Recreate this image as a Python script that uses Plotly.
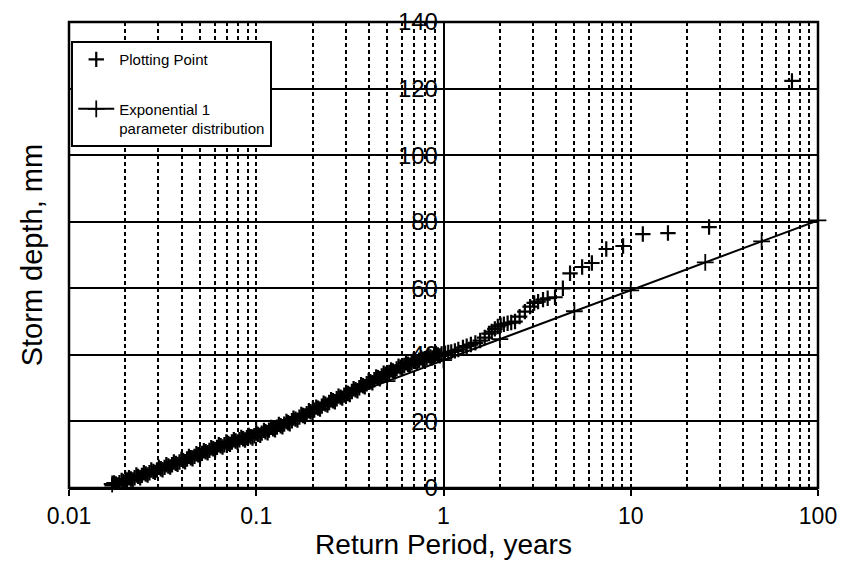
import plotly.graph_objects as go

# Plotting points (return period in years, storm depth in mm)
point_T = [
    0.0170, 0.0178, 0.0186, 0.0195, 0.0204, 0.0214, 0.0224, 0.0234, 0.0245, 0.0257,
    0.0269, 0.0282, 0.0295, 0.0309, 0.0324, 0.0339, 0.0355, 0.0372, 0.0389, 0.0407,
    0.0427, 0.0447, 0.0468, 0.0490, 0.0513, 0.0537, 0.0562, 0.0589, 0.0617, 0.0646,
    0.0676, 0.0708, 0.0741, 0.0776, 0.0813, 0.0851, 0.0891, 0.0933, 0.0977, 0.102,
    0.107, 0.112, 0.117, 0.123, 0.129, 0.135, 0.141, 0.148, 0.155, 0.162,
    0.170, 0.178, 0.186, 0.195, 0.204, 0.214, 0.224, 0.234, 0.245, 0.257,
    0.269, 0.282, 0.295, 0.309, 0.324, 0.339, 0.355, 0.372, 0.389, 0.407,
    0.427, 0.447, 0.468, 0.490, 0.513, 0.537, 0.562, 0.589, 0.617, 0.646,
    0.676, 0.708, 0.741, 0.776, 0.813, 0.851, 0.891, 0.933, 0.977,
    1.02, 1.06, 1.10, 1.15, 1.20, 1.27, 1.33, 1.40, 1.48, 1.57,
    1.66, 1.75, 1.81, 1.88, 1.95, 2.02, 2.10, 2.20, 2.30, 2.41,
    2.55, 2.72, 2.90, 3.05, 3.20, 3.40, 3.60, 3.94, 4.34, 4.74,
    5.5, 6.2, 7.4, 9.1, 11.6, 15.8, 26.2, 72.6,
    0.0174, 0.0182, 0.0191, 0.0200, 0.0209, 0.0219, 0.0229, 0.0240, 0.0251, 0.0263,
    0.0275, 0.0288, 0.0302, 0.0316, 0.0331, 0.0347, 0.0363, 0.0380, 0.0398, 0.0417,
    0.0437, 0.0457, 0.0479, 0.0501, 0.0525, 0.0550, 0.0575, 0.0603, 0.0631, 0.0661,
    0.0692, 0.0724, 0.0759, 0.0794, 0.0832, 0.0871, 0.0912, 0.0955, 0.100, 0.105,
    0.110, 0.115, 0.120, 0.126, 0.132, 0.138, 0.145, 0.151, 0.158, 0.166,
    0.174, 0.182, 0.191, 0.200, 0.209, 0.219, 0.229, 0.240, 0.251, 0.263,
    0.275, 0.288, 0.302, 0.316, 0.331, 0.347, 0.363, 0.380, 0.398, 0.417,
    0.437, 0.457, 0.479, 0.501, 0.525, 0.550, 0.575, 0.603, 0.631, 0.661,
    0.692, 0.724, 0.759, 0.794, 0.832, 0.871, 0.912, 0.955,
]
point_depth = [
    0.8, 1.2, 1.6, 2.0, 2.4, 2.7, 3.1, 3.5, 3.8, 4.2,
    4.6, 5.0, 5.4, 5.8, 6.2, 6.6, 7.0, 7.4, 7.8, 8.2,
    8.7, 9.1, 9.5, 10.0, 10.4, 10.9, 11.3, 11.8, 12.2, 12.7,
    13.0, 13.4, 13.8, 14.1, 14.5, 14.8, 15.1, 15.4, 15.7, 16.1,
    16.5, 16.9, 17.4, 17.8, 18.3, 18.7, 19.2, 19.6, 20.2, 20.7,
    21.3, 21.8, 22.3, 22.9, 23.4, 24.0, 24.6, 25.2, 25.7, 26.2,
    26.8, 27.3, 27.9, 28.4, 29.0, 29.5, 30.1, 30.7, 31.3, 31.9,
    32.5, 33.1, 33.7, 34.2, 34.7, 35.2, 35.8, 36.3, 36.8, 37.2,
    37.6, 38.0, 38.4, 38.7, 39.1, 39.4, 39.7, 40.0, 40.3,
    40.5, 40.7, 40.9, 41.2, 41.6, 42.2, 42.6, 43.1, 43.6, 44.3,
    45.2, 46.4, 47.0, 47.8, 48.5, 48.9, 49.2, 49.5, 49.7, 50.0,
    51.5, 53.0, 54.5, 55.6, 56.0, 56.6, 57.0, 57.3, 60.0, 64.5,
    66.4, 67.6, 71.8, 72.7, 76.3, 76.6, 78.4, 122.3,
    1.5, 0.9, 2.3, 1.7, 3.1, 2.4, 3.9, 3.1, 4.6, 3.9,
    5.4, 4.7, 6.2, 5.5, 7.0, 6.3, 7.8, 7.1, 8.6, 7.9,
    9.5, 8.8, 10.3, 9.7, 11.2, 10.6, 12.1, 11.5, 13.0, 12.3,
    13.8, 13.1, 14.5, 13.8, 15.2, 14.4, 15.8, 15.0, 16.5, 15.8,
    17.3, 16.6, 18.2, 17.5, 19.1, 18.4, 20.0, 19.3, 21.0, 20.4,
    22.1, 21.5, 23.2, 22.6, 24.3, 23.7, 25.5, 24.9, 26.5, 25.9,
    27.6, 27.0, 28.7, 28.1, 29.8, 29.2, 31.0, 30.4, 32.2, 31.6,
    33.4, 32.8, 34.5, 33.9, 35.5, 34.9, 36.6, 36.0, 37.6, 36.9,
    38.4, 37.7, 39.1, 38.4, 39.8, 39.1, 40.4, 39.7,
]

# Exponential 1-parameter distribution
fit_T = [0.017, 0.02, 0.05, 0.1, 0.2, 0.5, 1, 2, 5, 10, 25, 50, 100]
fit_depth = [1.2, 2.7, 11.1, 17.4, 23.7, 32.1, 38.4, 44.7, 53.1, 59.4, 67.8, 74.1, 80.4]

x_major_ticks = [0.01, 0.1, 1, 10, 100]
x_tick_text = ["0.01", "0.1", "1", "10", "100"]
x_minor_ticks = [m * d for d in (0.01, 0.1, 1, 10) for m in range(2, 10)]
y_ticks = [0, 20, 40, 60, 80, 100, 120, 140]

FONT = "Liberation Sans, Arial, sans-serif"

fig = go.Figure()
fig.add_trace(go.Scatter(
    x=point_T, y=point_depth, mode="markers", name="Plotting Point",
    legendgroup="a",
    marker=dict(symbol="cross-thin", size=11, color="black",
                line=dict(color="black", width=2.2)),
))
fig.add_trace(go.Scatter(
    x=fit_T, y=fit_depth, mode="lines+markers",
    name="Exponential 1<br>parameter distribution", legendgroup="b",
    line=dict(color="black", width=2),
    marker=dict(symbol="cross-thin", size=12, color="black",
                line=dict(color="black", width=1.8)),
    cliponaxis=False,
))

fig.update_layout(
    width=845, height=571,
    margin=dict(l=69, r=27, t=22, b=83, autoexpand=False),
    paper_bgcolor="white", plot_bgcolor="white",
    font=dict(family=FONT, color="black"),
    showlegend=True,
    legend=dict(
        x=0.003, y=0.959, xanchor="left", yanchor="top",
        bgcolor="white", bordercolor="black", borderwidth=2,
        font=dict(size=15, family=FONT, color="black"),
        tracegroupgap=27, valign="top", itemwidth=36,
    ),
    xaxis=dict(
        type="log", range=[-2, 2], automargin=False,
        tickvals=x_major_ticks, ticktext=x_tick_text,
        ticks="outside", ticklen=6, tickwidth=1.5, tickcolor="black",
        ticklabelstandoff=0,
        tickfont=dict(size=23, family=FONT, color="black"),
        showline=True, linecolor="black", linewidth=2,
        showgrid=True, gridcolor="black", gridwidth=1.5, griddash="4px,3px",
        minor=dict(tickvals=x_minor_ticks, showgrid=True, gridcolor="black",
                   gridwidth=1.5, griddash="4px,3px", ticks=""),
        zeroline=False,
        title=dict(text="Return Period, years",
                   font=dict(size=28, family=FONT, color="black"), standoff=6),
    ),
    yaxis=dict(
        range=[0, 140], tickvals=y_ticks, automargin=False,
        anchor="free", position=0.5, side="left",
        showline=True, linecolor="black", linewidth=1.5,
        ticks="", ticklabelstandoff=0,
        tickfont=dict(size=24, family=FONT, color="black"),
        showgrid=True, gridcolor="black", gridwidth=1.5,
        zeroline=False,
    ),
    shapes=[dict(type="rect", xref="paper", yref="paper", x0=0, x1=1, y0=0, y1=1,
                 line=dict(color="black", width=2.5), layer="above")],
    annotations=[dict(text="Storm depth, mm", xref="paper", yref="paper",
                      x=-0.049, y=0.5, xanchor="center", yanchor="middle",
                      textangle=-90, showarrow=False,
                      font=dict(size=29, family=FONT, color="black"))],
)

fig.write_html("out.html")
